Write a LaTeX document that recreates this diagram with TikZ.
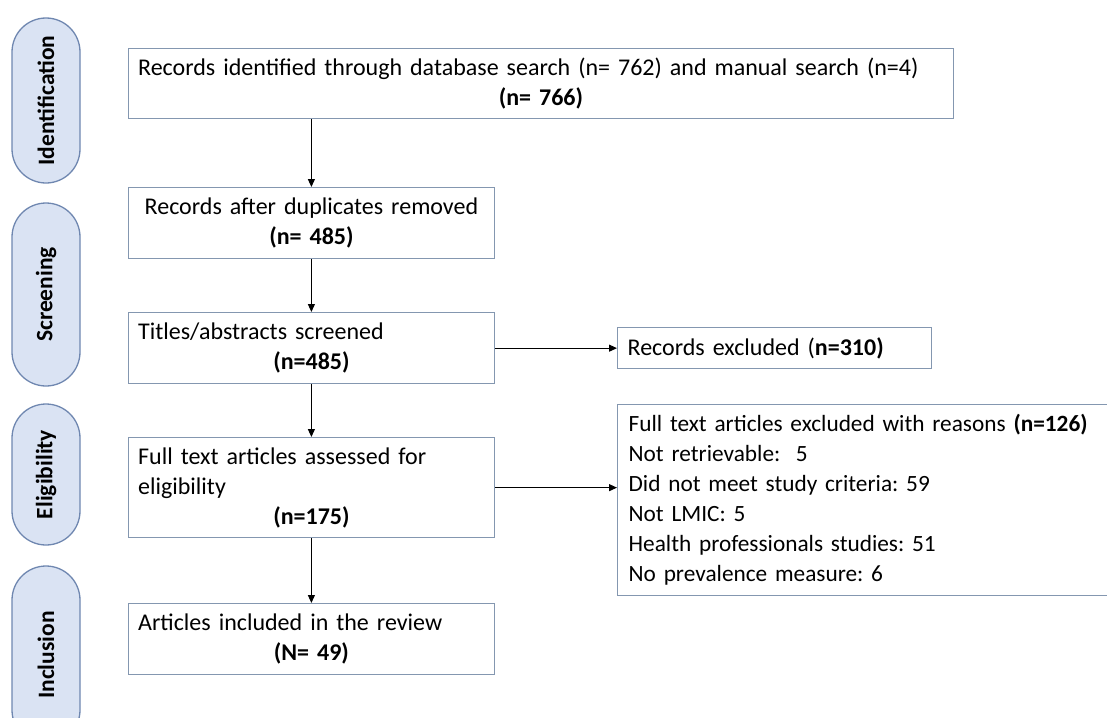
\documentclass[tikz,border=0pt]{standalone}
\usepackage{fontspec}
\setmainfont{Carlito}
\usetikzlibrary{arrows.meta}
\definecolor{pillfill}{HTML}{DAE3F3}
\definecolor{pillline}{HTML}{6F87B0}
\definecolor{boxline}{HTML}{8497B0}
\newcommand{\midln}[1]{\hbox to \hsize{\hfil#1\hfil}}
\frenchspacing

\begin{document}
\begin{tikzpicture}[
		x=1pt, y=-1pt,
		phase/.style={draw=pillline, fill=pillfill, line width=1.3pt, rounded corners=34pt, minimum height=68pt, inner sep=0pt, rotate=90, font=\fontsize{23.5pt}{26pt}\selectfont\bfseries},
		stage/.style={draw=boxline, line width=1.3pt, anchor=north west, align=left, inner xsep=10pt, inner ysep=0pt, text width=346.5pt, minimum height=71pt, font=\fontsize{24pt}{30pt}\selectfont},
		arr/.style={-{Triangle[length=8pt,width=7pt]}, line width=1.1pt}
		]
		\useasboundingbox (0,0) rectangle (1107,717);
		\clip (0,0) rectangle (1107,717);

		\node[phase, minimum width=165pt] (idf) at (46,100.5) {Identification};
		\node[phase, minimum width=183pt] (scrn) at (46,294.5) {Screening};
		\node[phase, minimum width=141pt] (elig) at (46,474.5) {Eligibility};
		\node[phase, minimum width=178pt] (inc) at (46,655) {Inclusion};

		\node[stage, text width=805.5pt, minimum height=70pt] (rec) at (127.5,48) {Records identified through database search (n= 762) and manual search (n=4)\\ \midln{\textbf{(n= 766)}}};
		\node[stage] (dup) at (127.5,187) {\midln{Records after duplicates removed}\\ \midln{\textbf{(n= 485)}}};
		\node[stage] (scr) at (127.5,312) {Titles/abstracts screened\\ \midln{\textbf{(n=485)}}};
		\node[stage, minimum height=100pt] (full) at (127.5,437) {Full text articles assessed for\\ eligibility\\ \midln{\textbf{(n=175)}}};
		\node[stage] (incl) at (127.5,603) {Articles included in the review\\ \midln{\textbf{(N= 49)}}};

		\node[stage, text width=294pt, minimum height=41pt] (exrec) at (617,327) {Records excluded (\textbf{n=310)}};
		\node[stage, text width=540pt, inner xsep=11pt, minimum height=191pt, font=\fontsize{23.3pt}{30pt}\selectfont] (exfull) at (617,404) {Full text articles excluded with reasons \textbf{(n=126)}\\ Not retrievable:\ \ 5\\ Did not meet study criteria: 59\\ Not LMIC: 5\\ Health professionals studies: 51\\ No prevalence measure: 6};

		\draw[arr] (rec.south -| dup.north) -- (dup.north);
		\draw[arr] (dup) -- (scr);
		\draw[arr] (scr) -- (full);
		\draw[arr] (full) -- (incl);
		\draw[arr] (scr) -- (exrec);
		\draw[arr] (full.east) -- (full.east -| exfull.west);
	\end{tikzpicture}
\end{document}
